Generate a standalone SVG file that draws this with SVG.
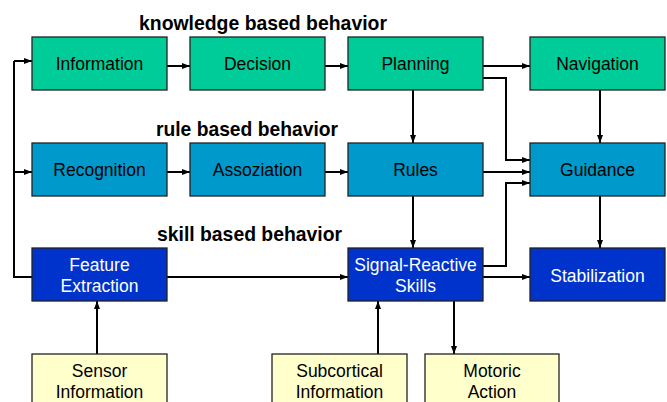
<svg xmlns="http://www.w3.org/2000/svg" width="667" height="402" viewBox="0 0 667 402">
<style>
.box{stroke:#222;stroke-width:1.3}
.k{fill:#00CC99}.r{fill:#0099CC}.s{fill:#0033CC}.y{fill:#FFFFCC}
.t{font-family:"Liberation Sans",Arial,sans-serif;font-size:17.5px;text-anchor:middle;fill:#000}
.w{fill:#fff}
.h{font-family:"Liberation Sans",Arial,sans-serif;font-size:19.3px;font-weight:bold;fill:#000}
.c{fill:none;stroke:#000;stroke-width:2;marker-end:url(#a)}
.n{fill:none;stroke:#000;stroke-width:2}
</style>
<defs>
<marker id="a" viewBox="0 0 8 6" refX="8" refY="3" markerWidth="8" markerHeight="6" markerUnits="userSpaceOnUse" orient="auto">
<path d="M0,0 L8,3 L0,6 z" fill="#000"/>
</marker>
</defs>
<rect width="667" height="402" fill="#fff"/>
<text class="h" x="139" y="29.5" textLength="248" lengthAdjust="spacingAndGlyphs">knowledge based behavior</text>
<text class="h" x="156" y="135.5" textLength="182" lengthAdjust="spacingAndGlyphs">rule based behavior</text>
<text class="h" x="157" y="241" textLength="185" lengthAdjust="spacingAndGlyphs">skill based behavior</text>
<g id="connectors">
<path class="n" d="M32,277 H14 V61"/>
<path class="c" d="M14,61 H32"/>
<path class="c" d="M14,172 H32"/>
<path class="c" d="M167,66 H190"/>
<path class="c" d="M325,66 H348"/>
<path class="c" d="M483,66 H530"/>
<path class="c" d="M483,78 H506 V160 H530"/>
<path class="c" d="M413,90 V143"/>
<path class="c" d="M600,90 V143"/>
<path class="c" d="M167,172 H190"/>
<path class="c" d="M325,172 H348"/>
<path class="c" d="M483,172 H530"/>
<path class="c" d="M483,266 H506 V183 H530"/>
<path class="c" d="M413,196 V248"/>
<path class="c" d="M600,196 V248"/>
<path class="c" d="M167,277 H348"/>
<path class="c" d="M483,277 H530"/>
<path class="c" d="M97,354 V301"/>
<path class="c" d="M378,354 V301"/>
<path class="c" d="M454,301 V354"/>
</g>
<g id="information"><rect class="box k" x="32" y="37" width="135" height="53"/><text class="t" x="99.5" y="70">Information</text></g>
<g id="decision"><rect class="box k" x="190" y="37" width="135" height="53"/><text class="t" x="257.5" y="70">Decision</text></g>
<g id="planning"><rect class="box k" x="348" y="37" width="135" height="53"/><text class="t" x="415.5" y="70">Planning</text></g>
<g id="navigation"><rect class="box k" x="530" y="37" width="135" height="53"/><text class="t" x="597.5" y="70">Navigation</text></g>
<g id="recognition"><rect class="box r" x="32" y="143" width="135" height="53"/><text class="t" x="99.5" y="176">Recognition</text></g>
<g id="assoziation"><rect class="box r" x="190" y="143" width="135" height="53"/><text class="t" x="257.5" y="176">Assoziation</text></g>
<g id="rules"><rect class="box r" x="348" y="143" width="135" height="53"/><text class="t" x="415.5" y="176">Rules</text></g>
<g id="guidance"><rect class="box r" x="530" y="143" width="135" height="53"/><text class="t" x="597.5" y="176">Guidance</text></g>
<g id="feature"><rect class="box s" x="32" y="248" width="135" height="53"/><text class="t w" x="99.5" y="271">Feature</text><text class="t w" x="99.5" y="292">Extraction</text></g>
<g id="signal"><rect class="box s" x="348" y="248" width="135" height="53"/><text class="t w" x="415.5" y="271">Signal-Reactive</text><text class="t w" x="415.5" y="292">Skills</text></g>
<g id="stabilization"><rect class="box s" x="530" y="248" width="135" height="53"/><text class="t w" x="597.5" y="282">Stabilization</text></g>
<g id="sensor"><rect class="box y" x="32" y="354" width="135" height="60"/><text class="t" x="99.5" y="377">Sensor</text><text class="t" x="99.5" y="398">Information</text></g>
<g id="subcortical"><rect class="box y" x="272" y="354" width="135" height="60"/><text class="t" x="339.5" y="377">Subcortical</text><text class="t" x="339.5" y="398">Information</text></g>
<g id="motoric"><rect class="box y" x="425" y="354" width="134" height="60"/><text class="t" x="492" y="377">Motoric</text><text class="t" x="492" y="398">Action</text></g>
</svg>
